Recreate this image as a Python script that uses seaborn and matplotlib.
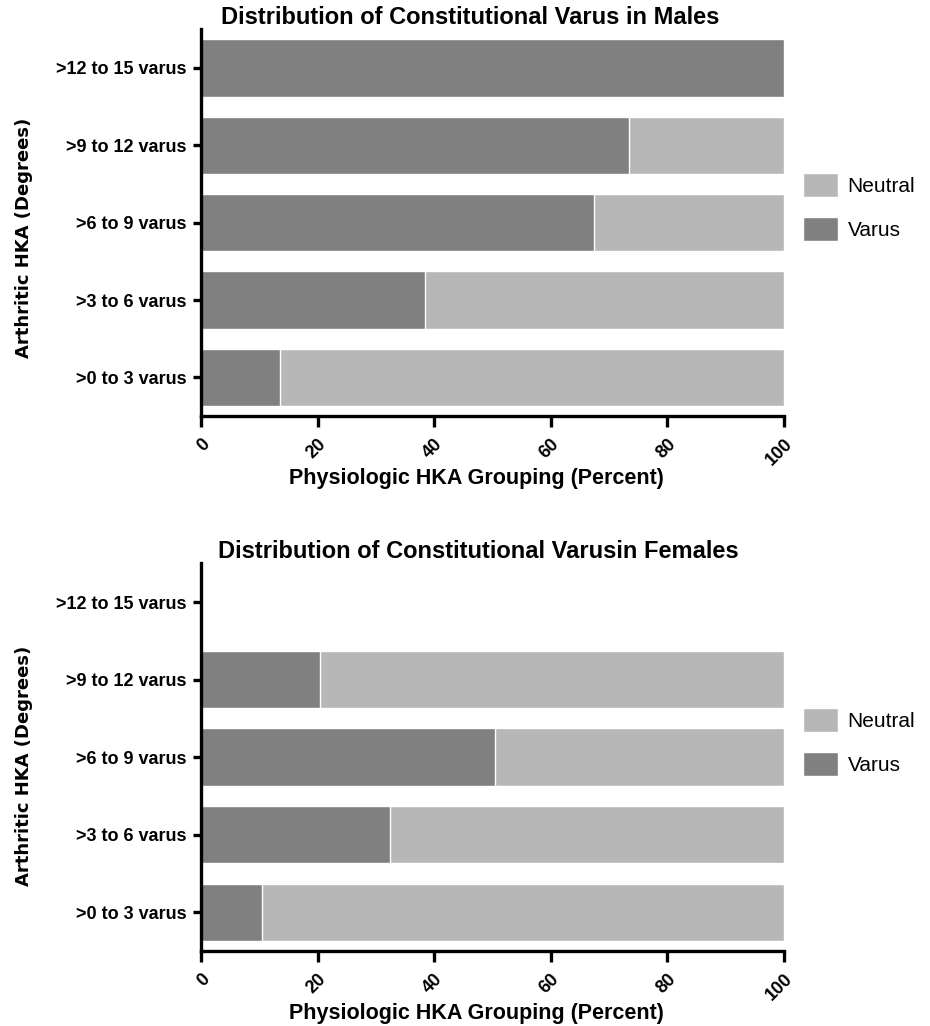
import matplotlib
matplotlib.use("Agg")
import matplotlib.pyplot as plt
from matplotlib.patches import Patch
import seaborn as sns
import pandas as pd

# categories, top to bottom
categories = [">12 to 15 varus", ">9 to 12 varus", ">6 to 9 varus", ">3 to 6 varus", ">0 to 3 varus"]

# percent of each arthritic group
male_varus = [100.0, 73.5, 67.5, 38.5, 13.5]
male_neutral = [0.0, 26.5, 32.5, 61.5, 86.5]
female_varus = [0.0, 20.5, 50.5, 32.5, 10.5]
female_neutral = [0.0, 79.5, 49.5, 67.5, 89.5]

titles = ["Distribution of Constitutional Varus in Males",
          "Distribution of Constitutional Varusin Females"]
x_ticks = [0, 20, 40, 60, 80, 100]

VARUS = "#808080"
NEUTRAL = "#b7b7b7"

sns.set_style("ticks")
plt.rcParams["font.family"] = ["Liberation Sans", "DejaVu Sans"]
for key in ["text.color", "axes.labelcolor", "xtick.color", "ytick.color", "axes.edgecolor"]:
    plt.rcParams[key] = "black"


def draw_panel(ax, varus, neutral, title, title_x, ylab_y, leg_x):
    df = pd.DataFrame({"group": categories,
                       "varus": varus,
                       "total": [v + n for v, n in zip(varus, neutral)]})
    # neutral drawn as full stack, varus laid over it
    sns.barplot(data=df, x="total", y="group", orient="h", order=categories,
                color=NEUTRAL, saturation=1, width=0.74, errorbar=None, ax=ax)
    sns.barplot(data=df, x="varus", y="group", orient="h", order=categories,
                color=VARUS, saturation=1, width=0.74, errorbar=None, ax=ax)

    ax.set_xlim(0, 100)
    ax.set_ylim(4.5, -0.5)
    ax.set_xticks(x_ticks)
    ax.set_xticklabels([str(t) for t in x_ticks], rotation=45, ha="right",
                       rotation_mode="anchor", fontsize=13, fontweight="bold")
    for lab in ax.get_yticklabels():
        lab.set_fontsize(13)
        lab.set_fontweight("bold")

    sns.despine(ax=ax)
    for s in ["left", "bottom"]:
        ax.spines[s].set_linewidth(2.4)
    ax.tick_params(axis="y", length=6, width=2.4, pad=4)
    ax.tick_params(axis="x", length=8, width=2.4, pad=6)

    ax.set_title(title, fontsize=17, fontweight="bold", pad=4, x=title_x)
    ax.set_xlabel("Physiologic HKA Grouping (Percent)", fontsize=15.5,
                  fontweight="bold")
    ax.xaxis.set_label_coords(0.4725, -0.135)
    ax.set_ylabel("Arthritic HKA (Degrees)", fontsize=13, fontweight="bold",
                  family=["DejaVu Sans"])
    ax.yaxis.set_label_coords(-0.288, ylab_y)

    handles = [Patch(facecolor=NEUTRAL, label="Neutral"),
               Patch(facecolor=VARUS, label="Varus")]
    ax.legend(handles=handles, loc="center left", bbox_to_anchor=(leg_x, 0.54),
              frameon=False, fontsize=15, handlelength=1.7, handleheight=1.4,
              labelspacing=0.95, handletextpad=0.45)


fig = plt.figure(figsize=(9.3, 10.26), dpi=100)
ax1 = fig.add_axes([0.216, 0.5945, 0.627, 0.377])
ax2 = fig.add_axes([0.216, 0.073, 0.627, 0.378])

draw_panel(ax1, male_varus, male_neutral, titles[0], 0.462, 0.461, 1.0)
draw_panel(ax2, female_varus, female_neutral, titles[1], 0.476, 0.478, 1.0)

fig.savefig("out.png", dpi=100)
